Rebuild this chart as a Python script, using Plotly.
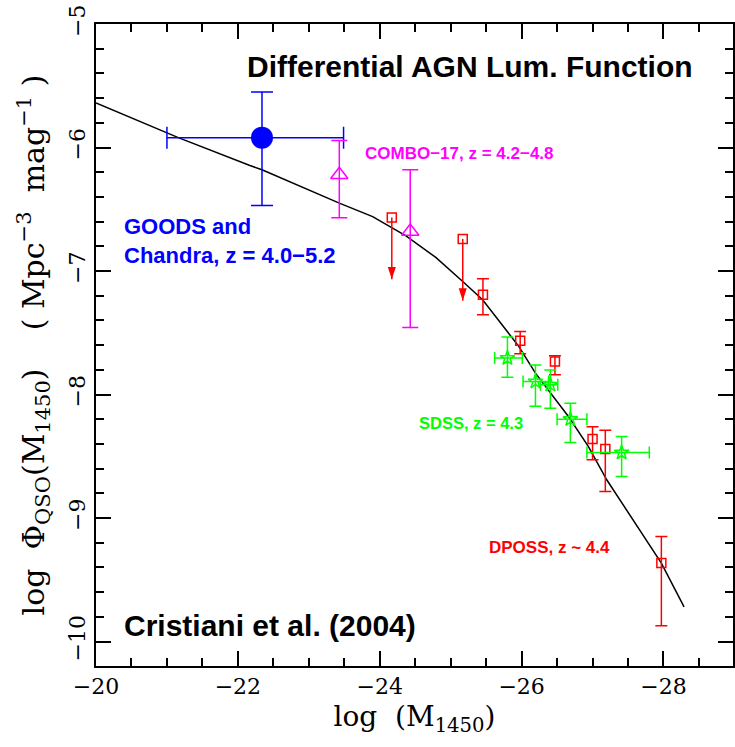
import plotly.graph_objects as go

# ---------------- data ----------------
# model curve
curve_x = [-20, -21.16, -22.17, -22.34, -23.43, -23.90, -24.37, -24.79, -25.17, -25.45,
           -25.96, -26.195, -26.66, -26.94, -27.2, -27.97, -28.29]
curve_y = [-5.64, -5.92, -6.146, -6.18, -6.45, -6.56, -6.715, -6.89, -7.085, -7.233,
           -7.61, -7.827, -8.178, -8.42, -8.69, -9.365, -9.72]

# GOODS + Chandra
goods_x = [-22.34]
goods_y = [-5.92]
goods_xerr_plus = [1.34]
goods_xerr_minus = [1.15]
goods_yerr_up = [0.37]
goods_yerr_down = [0.55]

# COMBO-17
combo_x = [-23.43, -24.43]
combo_y = [-6.221, -6.68]
combo_yerr_up = [0.278, 0.50]
combo_yerr_down = [0.348, 0.777]

# DPOSS
dposs_x = [-25.455, -25.98, -26.47, -27.0, -27.18, -27.97]
dposs_y = [-7.193, -7.565, -7.733, -8.361, -8.442, -9.365]
dposs_yerr_up = [0.13, 0.075, 0.046, 0.10, 0.152, 0.215]
dposs_yerr_down = [0.162, 0.105, 0.107, 0.168, 0.343, 0.508]

# DPOSS upper limits
dlim_x = [-24.17, -25.17]
dlim_y = [-6.567, -6.74]
dlim_len = 0.5

# SDSS
sdss_x = [-25.80, -26.195, -26.405, -26.687, -27.41]
sdss_y = [-7.705, -7.895, -7.921, -8.20, -8.47]
sdss_xerr_plus = [0.18, 0.175, 0.14, 0.187, 0.49]
sdss_xerr_minus = [0.21, 0.185, 0.105, 0.233, 0.39]
sdss_yerr_up = [0.17, 0.135, 0.12, 0.13, 0.13]
sdss_yerr_down = [0.155, 0.20, 0.19, 0.189, 0.194]

BLUE = "#0000ff"
MAG = "#ff00ff"
RED = "#ff0000"
GREEN = "#00ff00"

fig = go.Figure()

fig.add_trace(go.Scatter(x=curve_x, y=curve_y, mode="lines",
                         line=dict(color="black", width=1.5), showlegend=False))

fig.add_trace(go.Scatter(
    x=goods_x, y=goods_y, mode="markers",
    marker=dict(symbol="circle", size=22, color=BLUE),
    error_x=dict(type="data", symmetric=False, array=goods_xerr_plus,
                 arrayminus=goods_xerr_minus, color=BLUE, thickness=1.5, width=11),
    error_y=dict(type="data", symmetric=False, array=goods_yerr_up,
                 arrayminus=goods_yerr_down, color=BLUE, thickness=1.5, width=11),
    showlegend=False))

fig.add_trace(go.Scatter(
    x=combo_x, y=combo_y, mode="markers",
    marker=dict(symbol="triangle-up-open", size=15, color=MAG, line=dict(width=1.5)),
    error_y=dict(type="data", symmetric=False, array=combo_yerr_up,
                 arrayminus=combo_yerr_down, color=MAG, thickness=1.5, width=8),
    showlegend=False))

fig.add_trace(go.Scatter(
    x=dposs_x, y=dposs_y, mode="markers",
    marker=dict(symbol="square-open", size=9, color=RED, line=dict(width=1.5)),
    error_y=dict(type="data", symmetric=False, array=dposs_yerr_up,
                 arrayminus=dposs_yerr_down, color=RED, thickness=1.5, width=6),
    showlegend=False))

# upper limits: square + downward shaft
fig.add_trace(go.Scatter(
    x=dlim_x, y=dlim_y, mode="markers",
    marker=dict(symbol="square-open", size=9, color=RED, line=dict(width=1.5)),
    error_y=dict(type="data", symmetric=False, array=[0] * len(dlim_y),
                 arrayminus=[dlim_len] * len(dlim_y), color=RED, thickness=1.5, width=0),
    showlegend=False))
# arrow heads at the tips
fig.add_trace(go.Scatter(
    x=dlim_x, y=[v - dlim_len for v in dlim_y], mode="markers",
    marker=dict(symbol="arrow", angle=180, size=13, color=RED, line=dict(width=0)),
    showlegend=False))

fig.add_trace(go.Scatter(
    x=sdss_x, y=sdss_y, mode="markers",
    marker=dict(symbol="star-open", size=11, color=GREEN, line=dict(width=1.5)),
    error_x=dict(type="data", symmetric=False, array=sdss_xerr_plus,
                 arrayminus=sdss_xerr_minus, color=GREEN, thickness=1.5, width=6),
    error_y=dict(type="data", symmetric=False, array=sdss_yerr_up,
                 arrayminus=sdss_yerr_down, color=GREEN, thickness=1.5, width=6),
    showlegend=False))

annotations = []
SANS = "Liberation Sans, Arial, sans-serif"


def txt(text, x, y, size, color, xanchor="left", align="left"):
    annotations.append(dict(
        text=text, x=x, y=y, xref="x", yref="y", showarrow=False,
        xanchor=xanchor, yanchor="middle", align=align,
        font=dict(family=SANS, size=size, color=color)))


txt("<b>Differential AGN Lum. Function</b>", -25.27, -5.347, 30, "black", "center", "center")
txt("<b>COMBO\u221217, z = 4.2\u22124.8</b>", -23.77, -6.05, 17, MAG)
txt("<b>GOODS and<br>Chandra, z = 4.0\u22125.2</b>", -20.37, -6.755, 22, BLUE)
txt("<b>SDSS, z = 4.3</b>", -26.05, -8.23, 16.5, GREEN, "right", "right")
txt("<b>DPOSS, z ~ 4.4</b>", -25.515, -9.24, 17, RED)
txt("<b>Cristiani et al. (2004)</b>", -20.37, -9.873, 30, "black")

SERIF = "DejaVu Serif, serif"
NB = "\u00a0"

ytitle = ("log" + NB * 2 + "\u03a6<sub>QSO</sub>(M<sub>1450</sub>)" + NB * 4 +
          "(" + NB + "Mpc<sup>\u22123</sup>" + NB * 2 + "mag<sup>\u22121</sup>" + NB + ")" +
          NB * 3)

fig.update_layout(
    width=735, height=747,
    margin=dict(l=96, r=0, t=24, b=81),
    paper_bgcolor="white", plot_bgcolor="white",
    annotations=annotations,
    font=dict(family=SERIF, color="black"),
    xaxis=dict(
        range=[-20, -28.98], dtick=2, tick0=-20,
        ticks="inside", ticklen=15, tickwidth=1.5, tickcolor="black",
        minor=dict(dtick=0.5, ticks="inside", ticklen=8, tickwidth=1.5, tickcolor="black"),
        showline=True, linecolor="black", linewidth=2, mirror="ticks",
        showgrid=False, zeroline=False,
        tickfont=dict(family=SERIF, size=22, color="black"),
        title=dict(text="log" + NB * 2 + "(M<sub>1450</sub>)",
                   font=dict(family=SERIF, size=28, color="black"), standoff=8),
    ),
    yaxis=dict(
        range=[-10.198, -5], dtick=1, tick0=-5,
        ticks="inside", ticklen=15, tickwidth=1.5, tickcolor="black",
        minor=dict(dtick=0.2, ticks="inside", ticklen=8, tickwidth=1.5, tickcolor="black"),
        showline=True, linecolor="black", linewidth=2, mirror="ticks",
        showgrid=False, zeroline=False, tickangle=-90,
        tickfont=dict(family=SERIF, size=22, color="black"),
        title=dict(text=ytitle, font=dict(family=SERIF, size=30, color="black"), standoff=12),
    ),
)

fig.write_html("out.html")
